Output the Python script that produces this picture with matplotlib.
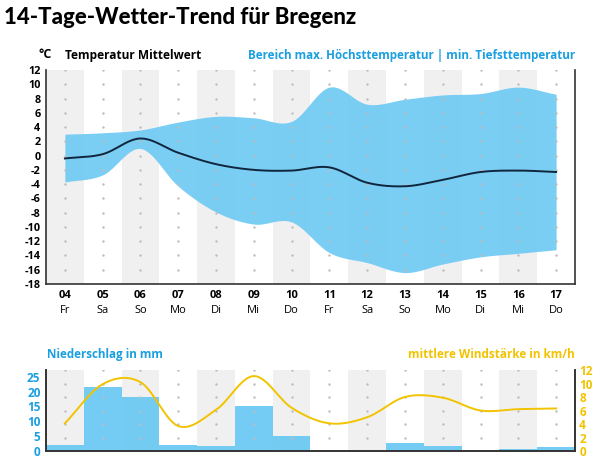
import numpy as np
import matplotlib
matplotlib.use("Agg")
import matplotlib.pyplot as plt

# 14-day forecast for Bregenz
days = ["04", "05", "06", "07", "08", "09", "10", "11", "12", "13", "14", "15", "16", "17"]
weekdays = ["Fr", "Sa", "So", "Mo", "Di", "Mi", "Do", "Fr", "Sa", "So", "Mo", "Di", "Mi", "Do"]

temp_mean = [-0.4, 0.2, 2.4, 0.4, -1.2, -2.0, -2.1, -1.65, -3.8, -4.3, -3.4, -2.3, -2.1, -2.3]
temp_max = [3.0, 3.2, 3.6, 4.7, 5.5, 5.3, 4.8, 9.6, 7.2, 7.9, 8.5, 8.7, 9.6, 8.6]
temp_min = [-3.7, -2.7, 1.0, -4.3, -7.9, -9.6, -9.3, -13.6, -15.0, -16.4, -15.2, -14.2, -13.7, -13.2]

precip_mm = [1.9, 21.5, 18.3, 1.9, 1.7, 15.3, 5.2, 0.0, 0.0, 2.6, 1.8, 0.0, 0.7, 1.35]
wind_kmh = [4.1, 9.9, 10.2, 3.7, 6.1, 11.1, 6.4, 4.1, 5.0, 8.0, 7.9, 6.0, 6.2, 6.3]

BLUE_TXT = "#1a9fe0"
BAND = "#6cc9f3"
YELLOW = "#f2c300"
GREY_BAND = "#f0f0f0"
DOT = "#bdbdbd"
FONT = "Open Sans"


def catmull_rom(y, n=24):
    # smooth curve through the daily points (drawing only)
    y = np.asarray(y, dtype=float)
    x = np.arange(len(y), dtype=float)
    m = np.gradient(y)
    xs, ys = [], []
    for i in range(len(y) - 1):
        t = np.linspace(0, 1, n, endpoint=False)
        h00 = 2 * t**3 - 3 * t**2 + 1
        h10 = t**3 - 2 * t**2 + t
        h01 = -2 * t**3 + 3 * t**2
        h11 = t**3 - t**2
        xs.append(x[i] + t)
        ys.append(h00 * y[i] + h10 * m[i] + h01 * y[i + 1] + h11 * m[i + 1])
    xs.append([x[-1]])
    ys.append([y[-1]])
    return np.concatenate(xs), np.concatenate(ys)


def day_background(ax):
    for i in range(0, len(days), 2):
        ax.axvspan(i - 0.5, i + 0.5, color=GREY_BAND, lw=0, zorder=0)


x = np.arange(len(days))
fig = plt.figure(figsize=(5.99, 4.69), dpi=100)

fig.text(4 / 599, 1 - 18 / 469, "14-Tage-Wetter-Trend für Bregenz",
         family=["Lato", "DejaVu Sans"], weight="black",
         fontsize=16, va="center", ha="left")

# --- temperature ---
ax = fig.add_axes([46 / 599, 1 - 284 / 469, 529 / 599, 214 / 469])
day_background(ax)
xs, hi = catmull_rom(temp_max)
_, lo = catmull_rom(temp_min)
_, mean = catmull_rom(temp_mean)
ax.fill_between(xs, lo, hi, color=BAND, alpha=0.9, lw=0, zorder=2)
gx, gy = np.meshgrid(x, np.arange(-16, 13, 2))
ax.scatter(gx.ravel(), gy.ravel(), s=3, color=DOT, lw=0, zorder=3)
ax.plot(xs, mean, color="#10263d", lw=1.4, zorder=4)

ax.set_xlim(-0.5, len(days) - 0.5)
ax.set_ylim(-18, 12)
ax.set_yticks(range(-18, 13, 2))
ax.set_yticklabels([str(v) for v in range(-18, 13, 2)], family=FONT,
                   weight="bold", fontsize=7.8)
ax.tick_params(axis="y", length=0, pad=4)
ax.set_xticks([])
for i in x:
    ax.text(i, -0.055, days[i], transform=ax.get_xaxis_transform(),
            ha="center", va="center", family=FONT, weight="bold", fontsize=8)
    ax.text(i, -0.125, weekdays[i], transform=ax.get_xaxis_transform(),
            ha="center", va="center", family=FONT, fontsize=8)
ax.spines["top"].set_visible(False)
for s in ("left", "bottom", "right"):
    ax.spines[s].set_color("#333333")
    ax.spines[s].set_linewidth(1.2)

fig.text(52 / 599, 1 - 55 / 469, "°C", family=FONT, weight="bold",
         fontsize=9, ha="right", va="center")
fig.text(65 / 599, 1 - 55 / 469, "Temperatur Mittelwert", family=FONT,
         weight="bold", fontsize=8.6, ha="left", va="center")
fig.text(575 / 599, 1 - 55 / 469,
         "Bereich max. Höchsttemperatur | min. Tiefsttemperatur",
         family=FONT, weight="bold", fontsize=8.4, ha="right", va="center",
         color=BLUE_TXT)

# --- precipitation / wind ---
bx = fig.add_axes([46 / 599, 1 - 451 / 469, 529 / 599, 81 / 469])
day_background(bx)
bx.bar(x, precip_mm, width=1.0, color=BAND, alpha=0.95, lw=0, zorder=2)
bx.set_xlim(-0.5, len(days) - 0.5)
bx.set_ylim(0, 27.3)
bx.set_yticks(range(0, 26, 5))
bx.set_yticklabels([str(v) for v in range(0, 26, 5)], family=FONT,
                   weight="bold", fontsize=8.5, color=BLUE_TXT)
bx.tick_params(axis="y", length=0, pad=4)
bx.set_xticks([])

wx = bx.twinx()
wx.set_xlim(-0.5, len(days) - 0.5)
wx.set_ylim(0, 12)
gx, gy = np.meshgrid(x, np.arange(2, 13, 2))
wx.scatter(gx.ravel(), gy.ravel(), s=3, color=DOT, lw=0, zorder=1)
wxs, wys = catmull_rom(wind_kmh)
wx.plot(wxs, wys, color=YELLOW, lw=1.4, zorder=3)
wx.set_yticks(range(0, 13, 2))
wx.set_yticklabels([str(v) for v in range(0, 13, 2)], family=FONT,
                   weight="bold", fontsize=8.5, color=YELLOW)
wx.tick_params(axis="y", length=0, pad=3)

for a in (bx, wx):
    a.spines["top"].set_visible(False)
    for s in ("left", "bottom", "right"):
        a.spines[s].set_color("#333333")
        a.spines[s].set_linewidth(1.2)

fig.text(47 / 599, 1 - 354 / 469, "Niederschlag in mm", family=FONT,
         weight="bold", fontsize=8.4, ha="left", va="center", color=BLUE_TXT)
fig.text(575 / 599, 1 - 355 / 469, "mittlere Windstärke in km/h", family=FONT,
         weight="bold", fontsize=8.5, ha="right", va="center", color=YELLOW)

fig.savefig("out.png", dpi=100)
